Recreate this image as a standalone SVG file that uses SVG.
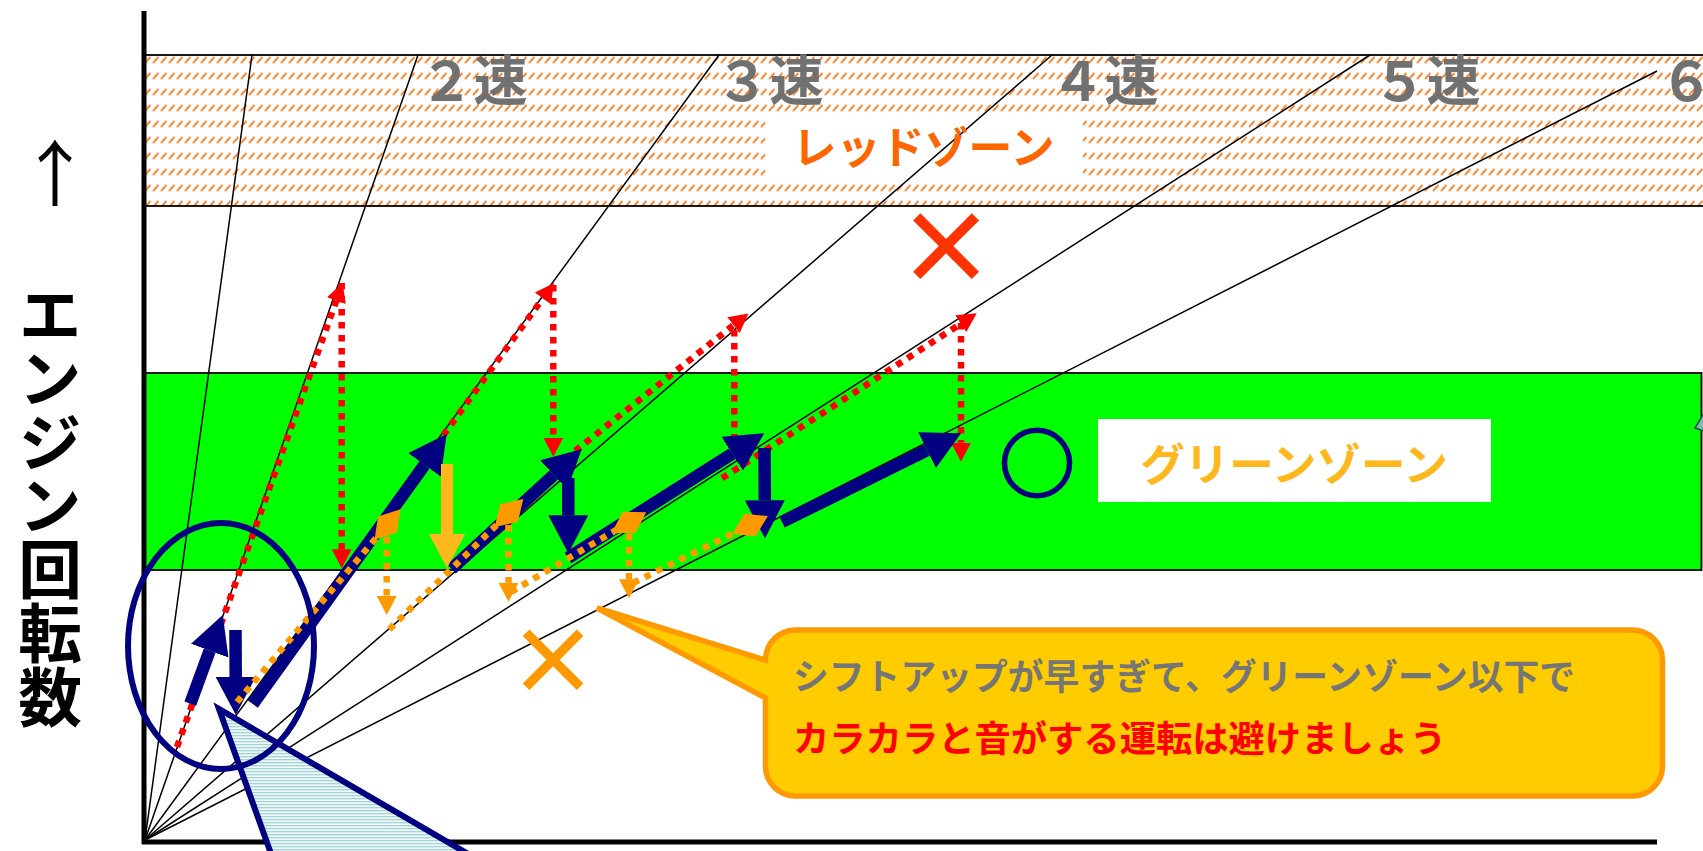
<svg xmlns="http://www.w3.org/2000/svg" width="1703" height="851" viewBox="0 0 1703 851">
<style>
.jp{font-family:"Noto Sans CJK JP","Noto Sans",sans-serif;font-weight:700}
.gear{font-size:54px;fill:#717171}
.gl{stroke:#000;stroke-width:1.5;fill:none}
.nv{stroke:#000080;stroke-width:12.5;fill:none}
.rd{stroke:#FF0000;stroke-width:6.5;stroke-dasharray:6.5 6.5;fill:none}
.od{stroke:#FF9900;stroke-width:6.5;stroke-dasharray:6.5 6.5;fill:none}
.zone{stroke:#000;stroke-width:1.8}
</style>
<defs>
<pattern id="hatch" width="8" height="16" patternUnits="userSpaceOnUse" patternTransform="translate(0,6.5)">
<rect width="8" height="16" fill="#fff"/>
<line x1="1" y1="8.5" x2="6.5" y2="2.5" stroke="#FF6A00" stroke-width="1.8"/>
</pattern>
<pattern id="stripe" width="6" height="3" patternUnits="userSpaceOnUse">
<rect width="6" height="3" fill="#EEF8F8"/>
<rect width="6" height="1.3" fill="#A6D4D4"/>
</pattern>
<marker id="hN" markerUnits="userSpaceOnUse" markerWidth="38" markerHeight="40" viewBox="0 0 38 40" refX="0" refY="20" orient="auto"><path d="M0,0 L38,20 L0,40 z" fill="#000080"/></marker>
<marker id="hY" markerUnits="userSpaceOnUse" markerWidth="34" markerHeight="36" viewBox="0 0 34 36" refX="0" refY="18" orient="auto"><path d="M0,0 L34,18 L0,36 z" fill="#FFB81C"/></marker>
<marker id="hR" markerUnits="userSpaceOnUse" markerWidth="19" markerHeight="20" viewBox="0 0 19 20" refX="0" refY="10" orient="auto"><path d="M0,0 L19,10 L0,20 z" fill="#FF0000"/></marker>
<marker id="hO" markerUnits="userSpaceOnUse" markerWidth="19" markerHeight="20" viewBox="0 0 19 20" refX="0" refY="10" orient="auto"><path d="M0,0 L19,10 L0,20 z" fill="#FF9900"/></marker>
<marker id="dO" markerUnits="userSpaceOnUse" markerWidth="40" markerHeight="25" viewBox="0 0 40 25" refX="20" refY="12.5" orient="auto"><path d="M0,12.5 L20,0 L40,12.5 L20,25 z" fill="#FF9900"/></marker>
</defs>

<rect width="1703" height="851" fill="#fff"/>

<g id="red-zone">
<rect class="zone" x="145" y="55" width="1570" height="151" fill="url(#hatch)"/>
<rect x="765" y="112" width="318" height="70" fill="#fff"/>
</g>
<g id="green-zone">
<rect class="zone" x="145" y="373" width="1556.5" height="197" fill="#00FF00"/>
</g>

<g id="gear-lines">
<line class="gl" x1="145" y1="840" x2="252" y2="55"/>
<line class="gl" x1="145" y1="840" x2="418" y2="55"/>
<line class="gl" x1="145" y1="840" x2="719" y2="55"/>
<line class="gl" x1="145" y1="840" x2="1052" y2="55"/>
<line class="gl" x1="145" y1="840" x2="1370" y2="55"/>
<line class="gl" x1="145" y1="840" x2="1657" y2="71"/>
</g>

<g id="gear-labels" class="jp gear">
<text x="419.5" y="101">２速</text>
<text x="715.5" y="101">３速</text>
<text x="1050.5" y="101">４速</text>
<text x="1372.5" y="101">５速</text>
<text x="1659.5" y="101">６速</text>
</g>

<g id="red-zone-label">
<text class="jp" x="923.5" y="164" font-size="44" fill="#FF6600" text-anchor="middle">レッドゾーン</text>
</g>

<g id="axes" stroke="#000" stroke-width="5">
<line x1="144" y1="11" x2="144" y2="844"/>
<line x1="142" y1="842" x2="1657" y2="842"/>
</g>

<g id="connectors">
<g id="late-shift">
<line class="rd" x1="177" y1="747" x2="336.3" y2="300.6" marker-end="url(#hR)"/>
<line class="rd" x1="341.7" y1="283" x2="341.7" y2="549.3" marker-end="url(#hR)"/>
<line class="rd" x1="344" y1="572" x2="542.8" y2="298.4" marker-end="url(#hR)"/>
<line class="rd" x1="553.3" y1="285" x2="553.3" y2="437.7" marker-end="url(#hR)"/>
<line class="rd" x1="565" y1="459" x2="733.5" y2="325.2" marker-end="url(#hR)"/>
<line class="rd" x1="734.3" y1="330" x2="734.3" y2="438" marker-end="url(#hR)"/>
<line class="rd" x1="722" y1="478.3" x2="960.8" y2="323.7" marker-end="url(#hR)"/>
<line class="rd" x1="961" y1="323" x2="961" y2="442.7" marker-end="url(#hR)"/>
</g>
<g id="proper-shift">
<line class="nv" x1="190.3" y1="703.7" x2="209.7" y2="650.7" marker-end="url(#hN)"/>
<line class="nv" x1="235.5" y1="630" x2="235.7" y2="677" marker-end="url(#hN)"/>
<line class="nv" x1="252.7" y1="704" x2="424.5" y2="464.9" marker-end="url(#hN)"/>
<line class="nv" x1="451.5" y1="569" x2="553.7" y2="475" marker-end="url(#hN)"/>
<line class="nv" x1="568.3" y1="478" x2="568.3" y2="515.3" marker-end="url(#hN)"/>
<line class="nv" x1="568" y1="558" x2="732.2" y2="453.7" marker-end="url(#hN)"/>
<line class="nv" x1="764.5" y1="448" x2="764.8" y2="500.3" marker-end="url(#hN)"/>
<line class="nv" x1="782" y1="522" x2="927" y2="450.2" marker-end="url(#hN)"/>
<line x1="447" y1="464" x2="447" y2="534" stroke="#FFB81C" stroke-width="12" marker-end="url(#hY)"/>
</g>
<g id="early-shift">
<line class="od" x1="237" y1="702" x2="387.5" y2="524.5" marker-end="url(#dO)"/>
<line class="od" x1="386.7" y1="537" x2="386.7" y2="596" marker-end="url(#hO)"/>
<line class="od" x1="389.3" y1="629.3" x2="509" y2="513" marker-end="url(#dO)"/>
<line class="od" x1="508.5" y1="525" x2="508.5" y2="582.7" marker-end="url(#hO)"/>
<line class="od" x1="511" y1="592" x2="629" y2="522.5" marker-end="url(#dO)"/>
<line class="od" x1="629" y1="534" x2="629" y2="579.3" marker-end="url(#hO)"/>
<line class="od" x1="633" y1="583" x2="750" y2="525" marker-end="url(#dO)"/>
</g>
</g>

<g id="pointer-wedge">
<polygon points="219,709 274,862 482,862" fill="url(#stripe)" stroke="#000080" stroke-width="6" stroke-linejoin="miter"/>
</g>
<g id="focus-ellipse">
<ellipse cx="221" cy="646" rx="93" ry="123" fill="none" stroke="#000080" stroke-width="6"/>
</g>
<g id="edge-fragment">
<polygon points="1704,413 1695,428 1704,431" fill="#7FB7B0" stroke="#1E4D4A" stroke-width="1.5"/>
</g>

<g id="callout">
<path d="M795.5,630 H1632.5 A30,30 0 0 1 1662.5,660 V766 A30,30 0 0 1 1632.5,796 H795.5 A30,30 0 0 1 765.5,766 V698 L597,608 L765.5,660 A30,30 0 0 1 795.5,630 Z" fill="#FFCC00" stroke="#FF9900" stroke-width="5.5" stroke-linejoin="miter"/>
<text class="jp" x="793" y="690" font-size="35.8" fill="#767676">シフトアップが早すぎて、グリーンゾーン以下で</text>
<text class="jp" x="793" y="752" font-size="36.3" fill="#FF0000">カラカラと音がする運転は避けましょう</text>
</g>

<g id="green-zone-label">
<rect x="1098" y="419" width="393" height="83" fill="#fff"/>
<text class="jp" x="1294" y="481" font-size="44.6" fill="#FFB81C" text-anchor="middle">グリーンゾーン</text>
</g>

<g id="marks" class="jp">
<text x="946" y="284" font-size="100" fill="#FF3300" text-anchor="middle">×</text>
<text x="553" y="695" font-size="92" fill="#FF9900" text-anchor="middle">×</text>
<text x="1037" y="492" font-size="76" fill="#000080" stroke="#000080" stroke-width="2.2" text-anchor="middle">○</text>
</g>

<g id="y-axis-label">
<text x="55" y="200" font-family="Noto Sans CJK JP, sans-serif" font-size="72" text-anchor="middle">↑</text>
<text class="jp" x="50" y="282" font-size="63.75" writing-mode="vertical-rl" fill="#000">エンジン回転数</text>
</g>
</svg>
